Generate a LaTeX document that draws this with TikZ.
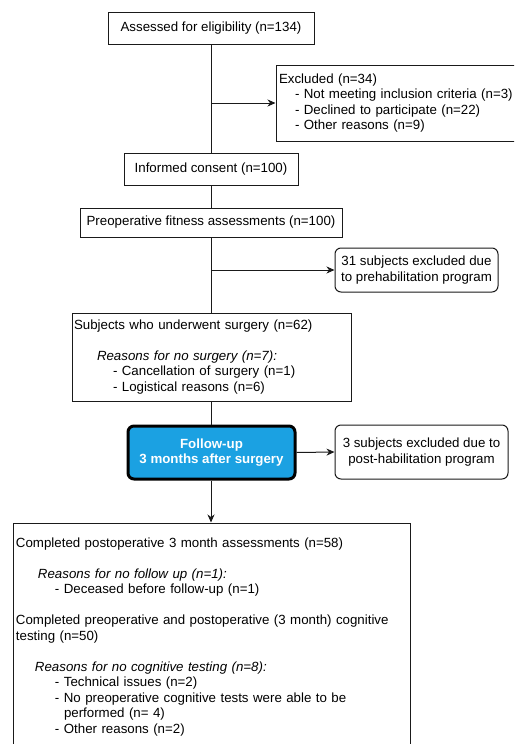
\documentclass[tikz,border=0pt]{standalone}
\usepackage{fontspec}
\setmainfont{Liberation Sans}
\usetikzlibrary{arrows.meta}
\definecolor{fublue}{HTML}{1BA1E2}
\definecolor{edge}{HTML}{1A1A1A}
\begin{document}
\begin{tikzpicture}[x=1pt,y=-1pt,
  txt/.style={font=\fontsize{13.3}{15.5}\selectfont},
  box/.style={txt,draw=edge,line width=1pt,rectangle,inner sep=0pt,align=center},
  lbox/.style={txt,draw=edge,line width=1pt,rectangle,inner ysep=0pt,align=left},
  rbox/.style={box,rounded corners=6pt},
  link/.style={draw=edge,line width=1pt},
  arr/.style={link,-{Stealth[length=8pt,width=7pt,inset=2.5pt]}}
]
\useasboundingbox (0,0) rectangle (514,744);
\clip (0,0) rectangle (514,744);
\fill[white] (0,0) rectangle (514,744);

\node[box,minimum width=206pt,minimum height=32pt] (b1) at (211,28) {Assessed for eligibility (n=134)};

\node[lbox,inner xsep=3pt,text width=238pt,minimum height=76pt] (excl) at (398,103)
 {Excluded (n=34)\\
  \hspace*{16pt}- Not meeting inclusion criteria (n=3)\\
  \hspace*{16pt}- Declined to participate (n=22)\\
  \hspace*{16pt}- Other reasons (n=9)};

\node[box,minimum width=174pt,minimum height=32pt] (ic) at (211,169) {Informed consent (n=100)};

\node[box,minimum width=262pt,minimum height=29pt] (pre) at (211,222.5) {Preoperative fitness assessments (n=100)};

\node[rbox,minimum width=163pt,minimum height=44pt] (p31) at (416.5,270)
 {31 subjects excluded due\\to prehabilitation program};

\node[lbox,inner xsep=2pt,text width=275pt,minimum height=88pt] (surg) at (211.5,357)
 {Subjects who underwent surgery (n=62)\\[15.5pt]
  \hspace*{23pt}\textit{Reasons for no surgery (n=7):}\\
  \hspace*{39pt}- Cancellation of surgery (n=1)\\
  \hspace*{39pt}- Logistical reasons (n=6)};

\node[box,fill=fublue,line width=3pt,draw=black,rounded corners=6pt,minimum width=167pt,minimum height=53pt,text=white,font=\fontsize{13.3}{15.5}\selectfont\bfseries] (fu) at (211.5,452.5)
 {Follow-up\\3 months after surgery};

\node[rbox,minimum width=173pt,minimum height=54pt] (p3) at (421.5,452)
 {3 subjects excluded due to\\post-habilitation program};

\node[lbox,inner xsep=3pt,text width=391pt,minimum height=228pt] (fin) at (211.5,637)
 {Completed postoperative 3 month assessments (n=58)\\[15.5pt]
  \hspace*{22pt}\textit{Reasons for no follow up (n=1):}\\
  \hspace*{39pt}- Deceased before follow-up (n=1)\\[15.5pt]
  Completed preoperative and postoperative (3 month) cognitive\\
  testing (n=50)\\[15.5pt]
  \hspace*{19pt}\textit{Reasons for no cognitive testing (n=8):}\\
  \hspace*{39pt}- Technical issues (n=2)\\
  \hspace*{39pt}- No preoperative cognitive tests were able to be\\
  \hspace*{48pt}performed (n= 4)\\
  \hspace*{39pt}- Other reasons (n=2)};

\coordinate (j1) at (b1.south |- excl.west);
\coordinate (j2) at (b1.south |- p31.west);

\draw[link] (b1.south) -- (ic.north);
\draw[arr] (j1) -- (excl.west);
\draw[link] (ic.south) -- (pre.north);
\draw[link] (pre.south) -- (surg.north -| pre.south);
\draw[arr] (j2) -- (p31.west);
\draw[link] (surg.south -| pre.south) -- (fu.north -| pre.south);
\draw[arr] (fu.east) -- (p3.west);
\draw[arr] (fu.south -| pre.south) -- (fin.north -| pre.south);
\end{tikzpicture}
\end{document}
